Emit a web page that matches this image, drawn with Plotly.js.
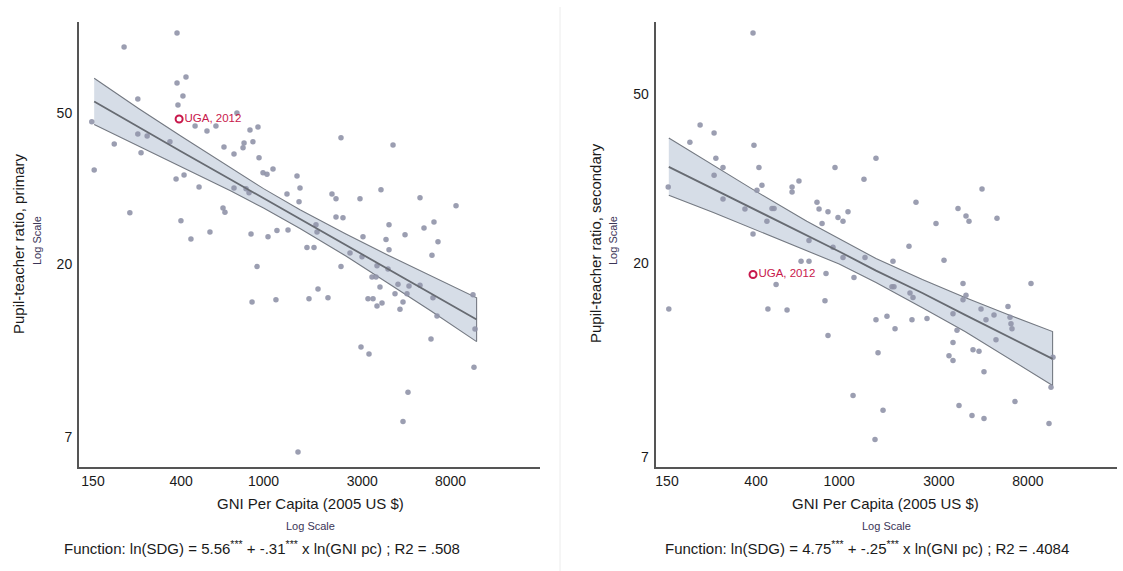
<!DOCTYPE html>
<html>
<head>
<meta charset="utf-8">
<script src="https://cdn.plot.ly/plotly-3.0.1.min.js"></script>
<style>html,body{margin:0;padding:0;background:#fff;}#chart{width:1123px;height:571px;}</style>
</head>
<body>
<div id="chart"></div>
<script>
// ---------- Left panel: primary ----------
const primGNI = [382,212,382,422,408,386,247,148,190,247,274,353,256,152,378,413,488,226,399,551,446,930,637,651,744,467,533,589,860,940,644,805,889,720,796,951,994,1039,1111,720,823,851,1161,1051,870,2367,1451,1500,1298,2141,2239,2924,1484,1792,1813,2239,2420,1621,1753,3023,3693,2616,2990,2367,3533,3342,3494,1833,2048,1658,1148,880,3196,3380,3533,4222,5700,8509,1313,4038,3906,4038,4825,5959,6659,6963,6512,3652,4462,5043,5700,4316,4932,3735,4718,4562,6584,6887,10280,10508,6442,2957,3232,10392,4987,4718,1467,3993];
const primPTR = [81.2,74.6,60.0,62.2,55.4,52.5,54.4,47.4,41.4,44.0,43.5,42.0,39.3,35.4,33.5,34.3,31.9,27.3,26.0,24.3,23.3,19.7,28.1,27.4,50.0,46.2,44.8,46.2,45.1,45.9,40.7,41.7,42.0,39.0,40.5,38.1,34.8,34.5,35.6,31.7,31.6,30.8,24.5,23.6,24.0,43.0,34.1,31.7,30.6,30.6,29.7,29.7,29.2,25.4,24.3,26.6,26.5,22.1,22.1,23.6,31.4,21.4,20.9,19.7,19.8,18.5,18.5,17.2,16.3,16.2,16.1,15.9,16.2,16.2,15.5,41.2,29.9,28.5,24.6,25.4,23.2,21.8,23.9,24.9,25.8,22.9,21.1,17.4,17.7,17.5,17.6,16.7,16.7,15.8,15.9,15.2,16.3,14.6,16.6,13.5,12.7,12.1,11.6,10.7,9.2,7.7,6.4,19.4];
const primFitGNI = [152,250,400,700,1000,1500,2500,4000,6500,10700];
const primFit    = [53.6,45.8,39.6,33.3,29.8,26.3,22.4,19.4,16.7,14.3];
const primUpper  = [61.7,51.3,43.4,35.7,31.6,27.8,24.0,21.1,18.6,16.3];
const primLower  = [46.6,40.9,36.1,31.1,28.1,24.8,21.0,17.8,15.0,12.5];
const primUGA = {gni: 391, ptr: 48.2, label: "UGA, 2012"};

// ---------- Right panel: secondary ----------
const secGNI = [387,216,252,193,391,257,278,413,955,252,152,427,404,595,595,642,278,477,488,354,451,387,783,801,884,828,987,1043,717,934,657,717,865,499,1500,1314,1102,2331,3703,2906,2158,3174,1809,1329,1043,1177,1789,1829,2182,2255,855,456,563,1500,1693,2230,2632,1850,884,3504,3663,4825,4044,4180,5690,3913,8276,4044,3913,6423,5505,4772,5041,6567,6638,6713,5628,3504,4369,4667,3353,3504,4931,1534,10547,10318,1165,1621,3744,4320,4931,6940,10093,1484,153];
const secPTR = [69.6,42.3,40.5,38.5,37.9,35.3,33.6,33.6,33.6,32.2,30.2,30.5,29.7,30.2,29.4,31.2,28.3,26.9,26.9,26.8,25.1,23.4,27.8,26.8,26.4,24.8,25.6,25.1,22.6,21.8,20.2,20.2,18.9,17.8,35.3,31.5,26.4,27.8,26.9,24.8,21.9,20.3,20.2,20.6,20.6,18.5,17.6,17.6,17.0,16.6,16.3,15.6,15.5,14.7,15.0,14.7,14.8,14.0,13.5,15.2,13.9,29.9,25.8,25.1,25.5,17.9,17.9,16.8,16.4,15.8,15.1,15.6,14.7,14.9,14.4,14.0,13.2,13.0,12.5,12.4,12.1,11.8,11.1,12.3,12.0,10.2,9.75,9.0,9.24,8.75,8.61,9.44,8.38,7.68,15.6];
const secFitGNI = [153,250,400,700,1000,1500,2500,4000,6500,10500];
const secFit    = [33.7,29.9,26.6,23.2,21.3,19.2,17.0,15.1,13.4,11.9];
const secUpper  = [39.4,34.0,29.5,25.1,22.8,20.5,18.3,16.6,15.1,13.8];
const secLower  = [28.9,26.3,24.0,21.4,19.9,18.0,15.7,13.8,11.9,10.3];
const secUGA = {gni: 387, ptr: 18.8, label: "UGA, 2012"};

// ---------- Ticks & labels ----------
const xTicks = [150,400,1000,3000,8000];
const xTickText = ["150","400","1000","3000","8000"];
const yTicks = [7,20,50];
const yTickText = ["7","20","50"];
const leftYTitle = "Pupil-teacher ratio, primary";
const rightYTitle = "Pupil-teacher ratio, secondary";
const xTitle = "GNI Per Capita (2005 US $)";
const scaleNote = "Log Scale";
const leftFunc = "Function: ln(SDG) = 5.56<sup>***</sup> + -.31<sup>***</sup> x ln(GNI pc) ; R2 = .508";
const rightFunc = "Function: ln(SDG) = 4.75<sup>***</sup> + -.25<sup>***</sup> x ln(GNI pc) ; R2 = .4084";

const FONT = "Liberation Sans, Arial, Helvetica, sans-serif";
const DOT = "#9093a8";
const BAND = "#d6dde7";
const BANDLINE = "#747982";
const FITLINE = "#676b72";
const RED = "#c8184c";

function panel(gni, ptr, fg, fit, up, lo, uga, xa, ya) {
  return [
    {x: fg.concat(fg.slice().reverse()), y: up.concat(lo.slice().reverse()),
     type: "scatter", mode: "lines", fill: "toself", fillcolor: BAND,
     line: {color: BANDLINE, width: 1.1}, xaxis: xa, yaxis: ya, hoverinfo: "skip"},
    {x: gni, y: ptr, type: "scatter", mode: "markers",
     marker: {color: DOT, size: 5.5, opacity: 0.9}, xaxis: xa, yaxis: ya},
    {x: fg, y: fit, type: "scatter", mode: "lines",
     line: {color: FITLINE, width: 1.8}, xaxis: xa, yaxis: ya},
    {x: [uga.gni], y: [uga.ptr], type: "scatter", mode: "markers+text",
     text: [uga.label], textposition: "middle right",
     textfont: {color: RED, size: 11.5, family: FONT},
     marker: {color: "rgba(0,0,0,0)", size: 7, line: {color: RED, width: 2}},
     xaxis: xa, yaxis: ya}
  ];
}

const data = panel(primGNI, primPTR, primFitGNI, primFit, primUpper, primLower, primUGA, "x", "y")
  .concat(panel(secGNI, secPTR, secFitGNI, secFit, secUpper, secLower, secUGA, "x2", "y2"));

const W = 1123, H = 571;
function axisX(domain, range, anchor) {
  return {type: "log", domain: domain, range: range, anchor: anchor,
    tickvals: xTicks, ticktext: xTickText, ticks: "", showgrid: false, zeroline: false,
    showline: true, linecolor: "#555", linewidth: 2,
    tickfont: {size: 14, color: "#1a1a1a", family: FONT}, ticklabelstandoff: 1};
}
function axisY(domain, range, anchor) {
  return {type: "log", domain: domain, range: range, anchor: anchor,
    tickvals: yTicks, ticktext: yTickText, ticks: "", showgrid: false, zeroline: false,
    showline: true, linecolor: "#555", linewidth: 2,
    tickfont: {size: 14, color: "#1a1a1a", family: FONT}, ticklabelstandoff: 2};
}
const yDom = [1 - 466.5 / H, 1 - 22.3 / H];

function ann(px, py, text, size, color, angle) {
  return {xref: "paper", yref: "paper", x: px / W, y: 1 - py / H, text: text,
    showarrow: false, xanchor: "center", yanchor: "middle", textangle: angle || 0,
    font: {size: size, color: color, family: FONT}};
}

const layout = {
  width: W, height: H, margin: {l: 0, r: 0, t: 0, b: 0},
  paper_bgcolor: "#fff", plot_bgcolor: "#fff", showlegend: false,
  xaxis: axisX([79 / W, 540 / W], [2.1085, 4.3356], "y"),
  yaxis: axisY(yDom, [0.768, 1.9377], "x"),
  xaxis2: axisX([655.7 / W, 1117 / W], [2.122, 4.3294], "y2"),
  yaxis2: axisY(yDom, [0.822, 1.868], "x2"),
  shapes: [{type: "line", xref: "paper", yref: "paper", x0: 560 / W, x1: 560 / W, y0: 0, y1: 1 - 7 / H,
    line: {color: "#ececec", width: 1}}],
  annotations: [
    ann(18, 244, leftYTitle, 15, "#1a1a1a", -90),
    ann(37, 241, scaleNote, 11, "#3b3557", -90),
    ann(310, 503, xTitle, 15, "#1a1a1a"),
    ann(310, 526, scaleNote, 11, "#3b3557"),
    ann(262, 547, leftFunc, 15, "#1a1a1a"),
    ann(596, 243, rightYTitle, 15, "#1a1a1a", -90),
    ann(613, 241, scaleNote, 11, "#3b3557", -90),
    ann(885, 503, xTitle, 15, "#1a1a1a"),
    ann(886, 526, scaleNote, 11, "#3b3557"),
    ann(867, 547, rightFunc, 15, "#1a1a1a")
  ]
};

Plotly.newPlot("chart", data, layout, {displayModeBar: false, staticPlot: true});
</script>
</body>
</html>
